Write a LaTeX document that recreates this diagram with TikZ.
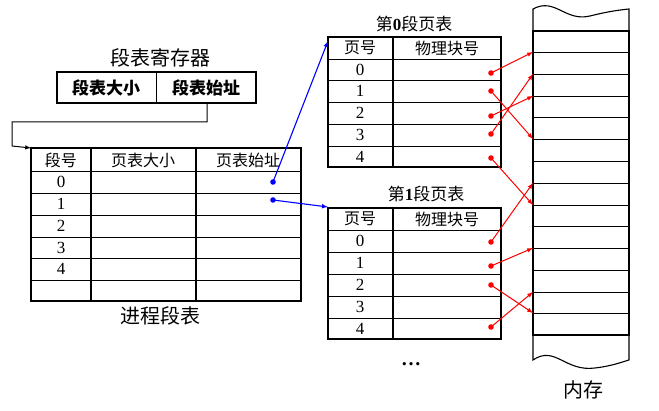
\documentclass[tikz,border=0pt]{standalone}
\usepackage{fontspec}
\setmainfont{Liberation Serif}
\newfontfamily\cjk{Noto Sans CJK SC}
\begin{document}
\begin{tikzpicture}[x=1pt,y=-1pt,
  thk/.style={line width=1.6pt},
  thn/.style={line width=0.7pt},
  txt/.style={font=\cjk\fontsize{16}{16}\selectfont,inner sep=0pt},
  big/.style={font=\cjk\fontsize{20}{20}\selectfont,inner sep=0pt},
  num/.style={font=\fontsize{17}{17}\selectfont,inner sep=0pt},
  rd/.style={red,line width=1pt,-latex},
  bl/.style={blue,line width=1.1pt,-latex}]
\useasboundingbox (0,0) rectangle (659,411);
% register
\node[big] (regt) at (160,58) {段表寄存器};
\draw[thk] (57,72) rectangle (256,103);
\draw[thn] (156,72) -- (156,103);
\node[font=\cjk\bfseries\fontsize{17}{17}\selectfont,inner sep=0pt] (r1) at (106,88) {段表大小};
\node[font=\cjk\bfseries\fontsize{17}{17}\selectfont,inner sep=0pt] (r2) at (206,88) {段表始址};
\coordinate (rs) at (207,103);
\coordinate (st) at (31,148);
\draw[line width=1pt,-latex] (rs) -- (207,122) -- (12,122) -- (12,146) -- (st);
% segment table
\draw[thk] (31,148) rectangle (301,301);
\draw[thk] (91,148) -- (91,301) (196,148) -- (196,301);
\foreach \y in {171,193,215,237,258,280} \draw[thn] (31,\y) -- (301,\y);
\node[txt] (h1) at (61,160) {段号};
\node[txt] (h2) at (143,160) {页表大小};
\node[txt] (h3) at (248,160) {页表始址};
\foreach \i/\y in {0/182,1/204,2/226,3/248,4/269} \node[num] (s\i) at (61,\y) {\i};
\node[big] (stt) at (160,316) {进程段表};
% page table 0
\node[font=\cjk\fontsize{17}{17}\selectfont,inner sep=0pt] (p0t) at (414,24) {第{\rmfamily\bfseries 0}段页表};
\draw[thk] (328,37) rectangle (501,167);
\draw[thk] (393,37) -- (393,167);
\foreach \y in {59,80,102,124,146} \draw[thn] (328,\y) -- (501,\y);
\node[txt] (a1) at (360,48) {页号};
\node[txt] (a2) at (447,48) {物理块号};
\foreach \i/\y in {0/70,1/91,2/113,3/135,4/157} \node[num] (a\i n) at (360,\y) {\i};
% page table 1
\node[font=\cjk\fontsize{17}{17}\selectfont,inner sep=0pt] (p1t) at (426,194) {第{\rmfamily\bfseries 1}段页表};
\draw[thk] (328,208) rectangle (501,339);
\draw[thk] (393,208) -- (393,339);
\foreach \y in {230,252,274,296,318} \draw[thn] (328,\y) -- (501,\y);
\node[txt] (b1) at (360,219) {页号};
\node[txt] (b2) at (447,219) {物理块号};
\foreach \i/\y in {0/241,1/263,2/285,3/307,4/329} \node[num] (b\i n) at (360,\y) {\i};
\node[font=\bfseries\fontsize{20}{20}\selectfont] (dots) at (411,364) {\dots};
% memory
\draw[line width=1.1pt] (533,31) -- (533,9) .. controls (555,-3) and (565,22) .. (590,16) .. controls (610,11) and (620,10) .. (629,9) -- (629,31);
\draw[line width=1.1pt] (533,335) -- (533,360) .. controls (555,345) and (565,372) .. (595,368) .. controls (612,366) and (622,362) .. (629,360) -- (629,335);
\draw[thk] (533,31) rectangle (629,335);
\foreach \y in {52,74,96,117,139,161,183,205,226,248,270,292,313} \draw[thn] (533,\y) -- (629,\y);
\node[big] (mem) at (583,390) {内存};
% red arrows
\foreach \n/\y in {m52/52,m74/74,m96/96,m139/139,m183/183,m205/205,m248/248,m292/292,m313/313} \coordinate (\n) at (533,\y);
\foreach \n/\y in {d0/73,d1/91,d2/116,d3/134,d4/158,e0/242,e1/266,e2/285,e4/327} {\coordinate (\n) at (491,\y); \fill[red] (\n) circle (2.8pt);}
\draw[rd] (d0) -- (m52);
\draw[rd] (d1) -- (m139);
\draw[rd] (d2) -- (m96);
\draw[rd] (d3) -- (m74);
\draw[rd] (d4) -- (m205);
\draw[rd] (e0) -- (m183);
\draw[rd] (e1) -- (m248);
\draw[rd] (e2) -- (m313);
\draw[rd] (e4) -- (m292);
% blue arrows
\coordinate (u0) at (273,182); \coordinate (u1) at (273,200);
\fill[blue] (u0) circle (2.8pt); \fill[blue] (u1) circle (2.8pt);
\coordinate (t0) at (328,41); \coordinate (t1) at (328,207);
\draw[bl] (u0) -- (t0);
\draw[bl] (u1) -- (t1);
\end{tikzpicture}
\end{document}
